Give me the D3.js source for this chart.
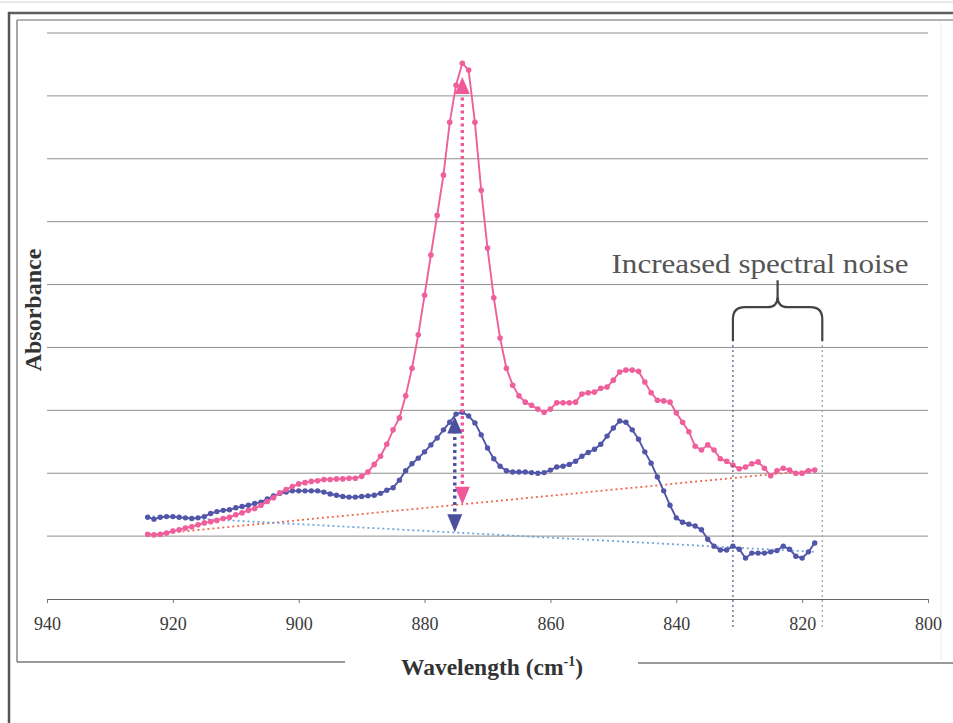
<!DOCTYPE html>
<html>
<head>
<meta charset="utf-8">
<script src="https://cdn.jsdelivr.net/npm/d3@7"></script>
<style>
  html, body { margin: 0; padding: 0; background: #fff; }
  svg { display: block; }
</style>
</head>
<body>
<svg id="chart" width="953" height="723"></svg>
<script>
// ---------------- DATA ----------------
const wavenumbers = [924,923,922,921,920,919,918,917,916,915,914,913,912,911,910,909,908,907,906,905,
  904,903,902,901,900,899,898,897,896,895,894,893,892,891,890,889,888,887,886,885,
  884,883,882,881,880,879,878,877,876,875,874,873,872,871,870,869,868,867,866,865,
  864,863,862,861,860,859,858,857,856,855,854,853,852,851,850,849,848,847,846,845,
  844,843,842,841,840,839,838,837,836,835,834,833,832,831,830,829,828,827,826,825,
  824,823,822,821,820,819,818];

const pinkSpectrum = [0.103,0.102,0.103,0.105,0.108,0.110,0.113,0.115,0.118,0.121,0.123,0.125,0.128,0.130,0.134,0.137,0.141,0.144,0.149,0.155,
  0.161,0.169,0.174,0.179,0.183,0.185,0.187,0.188,0.190,0.190,0.191,0.191,0.192,0.192,0.195,0.202,0.214,0.227,0.246,0.269,
  0.288,0.323,0.367,0.420,0.483,0.547,0.610,0.674,0.758,0.817,0.852,0.841,0.758,0.650,0.558,0.479,0.415,0.367,0.340,0.323,
  0.313,0.308,0.302,0.297,0.302,0.312,0.312,0.312,0.313,0.326,0.328,0.329,0.335,0.337,0.348,0.361,0.364,0.364,0.362,0.345,
  0.328,0.316,0.315,0.313,0.296,0.281,0.266,0.243,0.237,0.245,0.237,0.223,0.219,0.213,0.207,0.210,0.215,0.218,0.208,0.196,
  0.204,0.208,0.205,0.200,0.200,0.204,0.205];

const blueSpectrum = [0.130,0.127,0.130,0.131,0.131,0.130,0.129,0.128,0.129,0.131,0.136,0.139,0.141,0.142,0.145,0.147,0.149,0.152,0.154,0.159,
  0.164,0.168,0.170,0.172,0.172,0.172,0.172,0.172,0.170,0.167,0.165,0.163,0.162,0.162,0.163,0.164,0.165,0.168,0.173,0.177,
  0.189,0.204,0.215,0.224,0.234,0.245,0.256,0.269,0.281,0.294,0.297,0.291,0.280,0.261,0.240,0.223,0.211,0.204,0.202,0.202,
  0.202,0.201,0.200,0.201,0.205,0.210,0.211,0.214,0.219,0.227,0.233,0.238,0.246,0.259,0.272,0.283,0.281,0.269,0.254,0.234,
  0.216,0.194,0.172,0.149,0.129,0.122,0.119,0.116,0.110,0.095,0.084,0.078,0.078,0.084,0.079,0.065,0.073,0.073,0.073,0.075,
  0.077,0.084,0.079,0.068,0.065,0.075,0.089];

// linear baselines (two end points each)
const baselineWn   = [924, 818];
const pinkBaseline = [0.102, 0.205];
const blueBaseline = [0.132, 0.075];

// peak-height arrows
const arrowWn     = [874, 875.2];
const arrowTop    = [0.830, 0.290];
const arrowBottom = [0.150, 0.106];

// noisy region
const noiseRange = [831, 816.8];

const xTicks = [940, 920, 900, 880, 860, 840, 820, 800];
const yGrid  = [0.1, 0.2, 0.3, 0.4, 0.5, 0.6, 0.7, 0.8, 0.9];

const colors = {
  pink: "#ef5f9b", blue: "#5256a8",
  pinkBase: "#f0684e", blueBase: "#72a6dc",
  pinkArrow: "#f0589a", blueArrow: "#4c4f9e"
};
const serif = "'Liberation Serif', 'Times New Roman', Times, serif";

// ---------------- DRAW ----------------
const svg = d3.select("#chart");
const W = 953, H = 723;
svg.append("rect").attr("width", W).attr("height", H).attr("fill", "#fff");

// outer frame
const frame = svg.append("g");
frame.append("line").attr("x1",0).attr("x2",W).attr("y1",2).attr("y2",2).attr("stroke","#cfcfcf").attr("stroke-width",1);
frame.append("line").attr("x1",8).attr("x2",W).attr("y1",13).attr("y2",13).attr("stroke","#5e5e5e").attr("stroke-width",2.5);
frame.append("line").attr("x1",17).attr("x2",W).attr("y1",20).attr("y2",20).attr("stroke","#9a9a9a").attr("stroke-width",1.5);
frame.append("line").attr("x1",9).attr("x2",9).attr("y1",12).attr("y2",H).attr("stroke","#555").attr("stroke-width",2.5);
frame.append("line").attr("x1",17).attr("x2",17).attr("y1",20).attr("y2",662).attr("stroke","#8a8a8a").attr("stroke-width",1.5);
frame.append("line").attr("x1",17).attr("x2",345).attr("y1",662).attr("y2",662).attr("stroke","#777").attr("stroke-width",1.5);
frame.append("line").attr("x1",638).attr("x2",W).attr("y1",663).attr("y2",663).attr("stroke","#777").attr("stroke-width",1.5);
frame.append("line").attr("x1",941).attr("x2",941).attr("y1",22).attr("y2",660).attr("stroke","#ececec").attr("stroke-width",1);

const x = d3.scaleLinear().domain([940, 800]).range([47, 928]);
const y = d3.scaleLinear().domain([0, 0.9]).range([599, 33]);

// gridlines
svg.append("g").selectAll("line").data(yGrid).join("line")
  .attr("x1", x(940)).attr("x2", x(800))
  .attr("y1", d => y(d)).attr("y2", d => y(d))
  .attr("stroke", "#8f8f8f").attr("stroke-width", 1);

// x axis
const xAxis = d3.axisBottom(x).tickValues(xTicks).tickSize(4).tickPadding(14).tickSizeOuter(0);
const gx = svg.append("g").attr("transform", `translate(0,${y(0)})`).call(xAxis);
gx.select(".domain").attr("stroke", "#666").attr("stroke-width", 1.2);
gx.selectAll(".tick line").attr("stroke", "#777");
gx.selectAll(".tick text")
  .attr("font-family", serif)
  .attr("font-size", 18).attr("fill", "#3a3a3a");

// axis titles
const xt = svg.append("text")
  .attr("x", 492).attr("y", 675)
  .attr("text-anchor", "middle")
  .attr("font-family", serif)
  .attr("font-weight", "bold").attr("font-size", 23.5).attr("fill", "#333");
xt.append("tspan").text("Wavelength (cm");
xt.append("tspan").text("-1").attr("font-size", 14).attr("dy", -9);
xt.append("tspan").text(")").attr("dy", 9);

svg.append("text")
  .attr("transform", "translate(41,310) rotate(-90)")
  .attr("text-anchor", "middle")
  .attr("font-family", serif)
  .attr("font-weight", "bold").attr("font-size", 24).attr("fill", "#333")
  .text("Absorbance");

// baselines
const baseLine = d3.line().x(d => x(d[0])).y(d => y(d[1]));
svg.append("path")
  .attr("d", baseLine(baselineWn.map((w, i) => [w, pinkBaseline[i]])))
  .attr("fill", "none").attr("stroke", colors.pinkBase).attr("stroke-width", 1.8)
  .attr("stroke-dasharray", "2,3");
svg.append("path")
  .attr("d", baseLine(baselineWn.map((w, i) => [w, blueBaseline[i]])))
  .attr("fill", "none").attr("stroke", colors.blueBase).attr("stroke-width", 1.8)
  .attr("stroke-dasharray", "2,3");

// spectra
const line = d3.line().x(d => x(d.w)).y(d => y(d.v));
function drawSeries(values, color, r) {
  const data = wavenumbers.map((w, i) => ({ w, v: values[i] }));
  const g = svg.append("g");
  g.append("path").attr("d", line(data)).attr("fill", "none")
    .attr("stroke", color).attr("stroke-width", 1.9);
  g.selectAll("circle").data(data).join("circle")
    .attr("cx", d => x(d.w)).attr("cy", d => y(d.v)).attr("r", r)
    .attr("fill", color);
}
drawSeries(blueSpectrum, colors.blue, 2.7);
drawSeries(pinkSpectrum, colors.pink, 2.8);

// arrows
const arrowColors = [colors.pinkArrow, colors.blueArrow];
arrowWn.forEach((w, i) => {
  const ax = x(w), yT = y(arrowTop[i]), yB = y(arrowBottom[i]);
  const c = arrowColors[i];
  svg.append("line").attr("x1", ax).attr("x2", ax).attr("y1", yT + 14).attr("y2", yB - 14)
    .attr("stroke", c).attr("stroke-width", 3.4).attr("stroke-dasharray", "3,3.5");
  svg.append("path").attr("d", `M${ax},${yT} L${ax - 7.5},${yT + 17} L${ax + 7.5},${yT + 17} Z`).attr("fill", c);
  svg.append("path").attr("d", `M${ax},${yB} L${ax - 7.5},${yB - 18} L${ax + 7.5},${yB - 18} Z`).attr("fill", c);
});

// noisy region markers
const xL = x(noiseRange[0]), xR = x(noiseRange[1]);
svg.append("line").attr("x1", xL).attr("x2", xL).attr("y1", y(0.404)).attr("y2", y(-0.046))
  .attr("stroke", "#4a5580").attr("stroke-width", 1.2).attr("stroke-dasharray", "2,3");
svg.append("line").attr("x1", xR).attr("x2", xR).attr("y1", y(0.404)).attr("y2", y(-0.046))
  .attr("stroke", "#9a9a9a").attr("stroke-width", 1.2).attr("stroke-dasharray", "2,3");

// brace
const xM = (xL + xR) / 2, yE = y(0.41), yH = y(0.464), yTip = y(0.507);
svg.append("path")
  .attr("d", `M${xL},${yE} L${xL},${yH + 12} Q${xL},${yH} ${xL + 12},${yH} L${xM - 10},${yH} Q${xM},${yH} ${xM},${yH - 11} L${xM},${yTip}
              M${xM},${yH - 11} Q${xM},${yH} ${xM + 10},${yH} L${xR - 12},${yH} Q${xR},${yH} ${xR},${yH + 12} L${xR},${yE}`)
  .attr("fill", "none").attr("stroke", "#444").attr("stroke-width", 2.2);

svg.append("text")
  .attr("x", 760).attr("y", 273)
  .attr("text-anchor", "middle")
  .attr("font-family", serif)
  .attr("font-size", 28).attr("fill", "#555")
  .attr("textLength", 297).attr("lengthAdjust", "spacingAndGlyphs")
  .text("Increased spectral noise");
</script>
</body>
</html>
